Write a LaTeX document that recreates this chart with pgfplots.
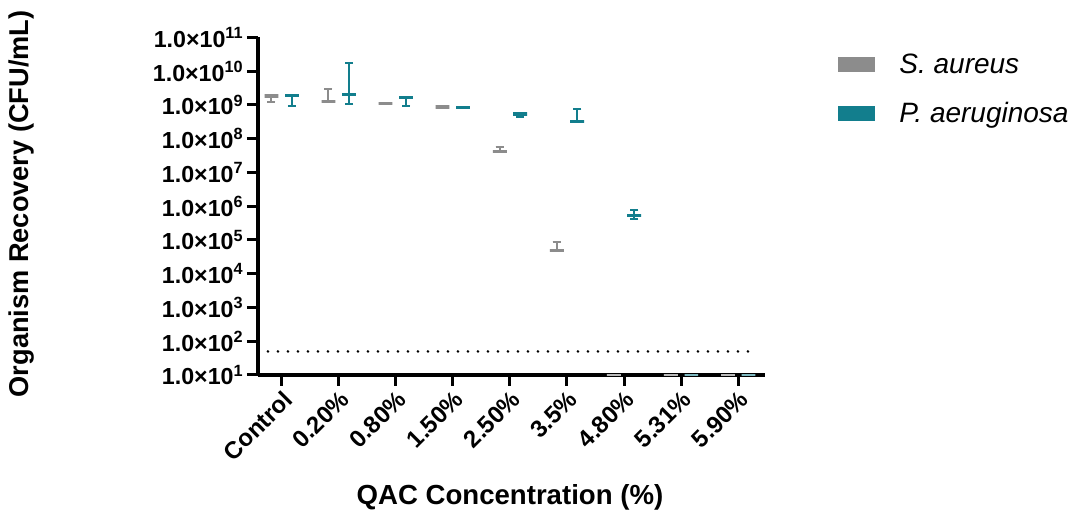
\documentclass[border=0pt]{standalone}
\usepackage{fontspec}
\setmainfont{Liberation Sans}
\usepackage{pgfplots}
\pgfplotsset{compat=1.18}
\usepgfplotslibrary{statistics}
\definecolor{sgrey}{RGB}{140,140,140}
\definecolor{steal}{RGB}{18,126,141}
\begin{document}
\begin{tikzpicture}
\path[use as bounding box] (0,0) rectangle (536.5pt,-258.5pt);
\begin{axis}[
  at={(129pt,-187.5pt)}, anchor=south west,
  width=253.5pt, height=168.75pt, scale only axis,
  ymode=log, ymin=10, ymax=1e11,
  xmin=-0.415, xmax=8.47,
  axis lines=left, axis line style={-, line width=1.6pt},
  tick align=outside, major tick length=5.5pt,
  every tick/.style={black, line width=1.5pt},
  xtick={0,...,8}, ytick={1e1,1e2,1e3,1e4,1e5,1e6,1e7,1e8,1e9,1e10,1e11},
  minor ytick={}, yminorticks=false,
  xticklabels={Control,0.20\%,0.80\%,1.50\%,2.50\%,3.5\%,4.80\%,5.31\%,5.90\%},
  yticklabels={1.0×10\textsuperscript{1},1.0×10\textsuperscript{2},1.0×10\textsuperscript{3},1.0×10\textsuperscript{4},1.0×10\textsuperscript{5},1.0×10\textsuperscript{6},1.0×10\textsuperscript{7},1.0×10\textsuperscript{8},1.0×10\textsuperscript{9},1.0×10\textsuperscript{10},1.0×10\textsuperscript{11}},
  xticklabel style={font=\fontsize{12}{14}\selectfont\bfseries, rotate=45, anchor=north east, inner sep=1pt},
  yticklabel style={font=\fontsize{11.6}{14}\selectfont\bfseries, inner sep=1.5pt},
  xlabel={QAC Concentration (\%)},
  ylabel={Organism Recovery (CFU/mL)},
  every axis x label/.style={at={(rel axis cs:0.497,-0.3615)}, anchor=center, font=\fontsize{13.8}{16}\selectfont\bfseries},
  every axis y label/.style={at={(rel axis cs:-0.4655,0.507)}, anchor=center, rotate=90, font=\fontsize{13.6}{16}\selectfont\bfseries},
  clip=false,
  boxplot/draw direction=y,
  boxplot/box extend=0.24,
  boxplot/whisker extend=0.14,
  legend style={at={(rel axis cs:1.144,0.965)}, anchor=north west, draw=none, fill=none,
    font=\fontsize{14}{16}\selectfont\itshape, row sep=9pt, inner sep=0pt},
  legend cell align=left,
  legend image code/.code={\fill[#1] (0pt,-3.75pt) rectangle (18.5pt,3.75pt);},
]
\addlegendimage{fill=sgrey, draw=none}
\addlegendentry{\hspace*{10pt}S. aureus}
\addlegendimage{fill=steal, draw=none}
\addlegendentry{\hspace*{10pt}P. aeruginosa}

% detection limit
\addplot[black, line width=1.4pt, dash pattern=on 0pt off 5pt, line cap=round, forget plot] coordinates {(-0.24,50) (8.3,50)};

\pgfplotsset{
  sa/.style={forget plot, solid, sgrey, fill=sgrey,
    boxplot/every box/.style={draw=sgrey, fill=sgrey, line width=1.6pt},
    boxplot/every whisker/.style={sgrey, line width=1pt},
    boxplot/every median/.style={sgrey, line width=1.6pt}},
  pa/.style={forget plot, solid, steal, fill=steal,
    boxplot/every box/.style={draw=steal, fill=steal, line width=1.6pt},
    boxplot/every whisker/.style={steal, line width=1pt},
    boxplot/every median/.style={steal, line width=1.6pt}},
  sz/.style={forget plot, solid, sgrey!70,
    boxplot/every box/.style={draw=sgrey!60, line width=1.2pt},
    boxplot/every whisker/.style={draw=none},
    boxplot/every median/.style={sgrey!60, line width=1.2pt}},
  pz/.style={forget plot, solid, steal!60,
    boxplot/every box/.style={draw=steal!55, line width=1.2pt},
    boxplot/every whisker/.style={draw=none},
    boxplot/every median/.style={steal!55, line width=1.2pt}},
}
% S. aureus
\addplot[sa, boxplot prepared={draw position=-0.18, lower whisker=1.25e9, lower quartile=1.85e9, median=1.85e9, upper quartile=1.85e9, upper whisker=1.85e9}] coordinates {};
\addplot[sa, boxplot prepared={draw position=0.82, lower whisker=1.22e9, lower quartile=1.25e9, median=1.25e9, upper quartile=1.25e9, upper whisker=3.0e9}] coordinates {};
\addplot[sa, boxplot prepared={draw position=1.82, lower whisker=1.12e9, lower quartile=1.12e9, median=1.12e9, upper quartile=1.12e9, upper whisker=1.12e9}] coordinates {};
\addplot[sa, boxplot prepared={draw position=2.82, lower whisker=8.7e8, lower quartile=8.7e8, median=8.7e8, upper quartile=8.7e8, upper whisker=8.7e8}] coordinates {};
\addplot[sa, boxplot prepared={draw position=3.82, lower whisker=4.2e7, lower quartile=4.3e7, median=4.3e7, upper quartile=4.3e7, upper whisker=5.8e7}] coordinates {};
\addplot[sa, boxplot prepared={draw position=4.82, lower whisker=4.8e4, lower quartile=5.0e4, median=5.0e4, upper quartile=5.0e4, upper whisker=8.9e4}] coordinates {};
\addplot[sz, boxplot prepared={draw position=5.82, lower whisker=10, lower quartile=10, median=10, upper quartile=10, upper whisker=10}] coordinates {};
\addplot[sz, boxplot prepared={draw position=6.82, lower whisker=10, lower quartile=10, median=10, upper quartile=10, upper whisker=10}] coordinates {};
\addplot[sz, boxplot prepared={draw position=7.82, lower whisker=10, lower quartile=10, median=10, upper quartile=10, upper whisker=10}] coordinates {};
% P. aeruginosa
\addplot[pa, boxplot prepared={draw position=0.18, lower whisker=9.3e8, lower quartile=1.94e9, median=1.94e9, upper quartile=1.94e9, upper whisker=1.94e9}] coordinates {};
\addplot[pa, boxplot prepared={draw position=1.18, lower whisker=1.05e9, lower quartile=2.0e9, median=2.0e9, upper quartile=2.0e9, upper whisker=1.7e10}] coordinates {};
\addplot[pa, boxplot prepared={draw position=2.18, lower whisker=9.5e8, lower quartile=1.64e9, median=1.64e9, upper quartile=1.64e9, upper whisker=1.64e9}] coordinates {};
\addplot[pa, boxplot prepared={draw position=3.18, lower whisker=8.3e8, lower quartile=8.3e8, median=8.3e8, upper quartile=8.3e8, upper whisker=8.3e8}] coordinates {};
\addplot[pa, boxplot prepared={draw position=4.18, lower whisker=4.3e8, lower quartile=5.4e8, median=5.4e8, upper quartile=5.4e8, upper whisker=5.4e8}] coordinates {};
\addplot[pa, boxplot prepared={draw position=5.18, lower whisker=3.2e8, lower quartile=3.2e8, median=3.2e8, upper quartile=3.2e8, upper whisker=7.6e8}] coordinates {};
\addplot[pa, boxplot prepared={draw position=6.18, lower whisker=4.1e5, lower quartile=5.3e5, median=5.3e5, upper quartile=5.3e5, upper whisker=7.7e5}] coordinates {};
\addplot[pz, boxplot prepared={draw position=7.18, lower whisker=10, lower quartile=10, median=10, upper quartile=10, upper whisker=10}] coordinates {};
\addplot[pz, boxplot prepared={draw position=8.18, lower whisker=10, lower quartile=10, median=10, upper quartile=10, upper whisker=10}] coordinates {};
\end{axis}
\end{tikzpicture}
\end{document}
